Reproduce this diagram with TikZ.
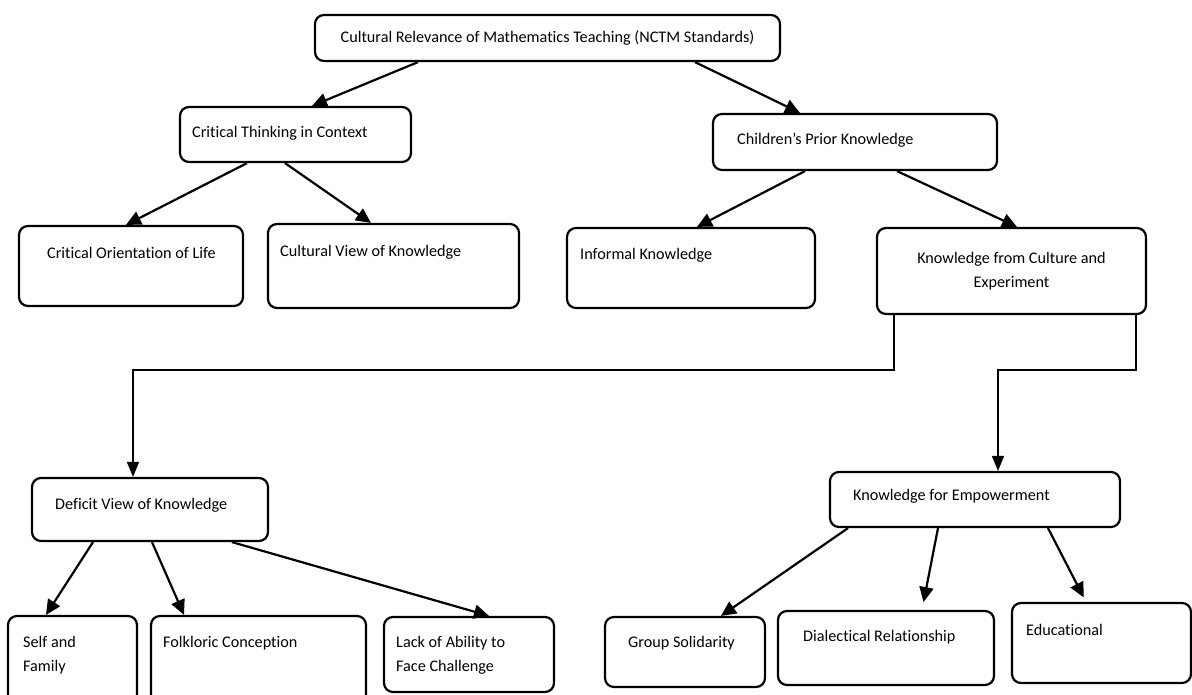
\documentclass[tikz,border=0pt]{standalone}
\usepackage{fontspec}
\setmainfont{Carlito}[Ligatures=CommonOff]
\usetikzlibrary{arrows.meta}
\tikzset{
  box/.style   = {draw, line width=2.2pt, rounded corners=9pt, inner sep=0pt},
  txt/.style   = {inner sep=0pt, align=left, font=\fontsize{16.2}{24}\selectfont},
  link/.style  = {-{Triangle[length=15pt,width=14pt]}, line width=2.2pt},
  elbow/.style = {-{Triangle[length=15pt,width=12pt]}, line width=1.6pt},
}

\begin{document}
\begin{tikzpicture}[x=1pt,y=-1pt]
\useasboundingbox[fill=white] (0,0) rectangle (1192,694);
\clip (0,0) rectangle (1192,694);
% ---------- top ----------
\node[box, txt, align=center, minimum width=465pt, minimum height=46pt] (NCTM) at (547.5,38)
  {Cultural Relevance of Mathematics Teaching (NCTM Standards)};
% ---------- second level ----------
\node[box, minimum width=231pt, minimum height=55pt] (CT) at (295.5,134.5) {};
\node[txt, anchor=west] (CTt) at (192,133) {Critical Thinking in Context};
\node[box, minimum width=284pt, minimum height=56pt] (CP) at (855,142) {};
\node[txt, anchor=west] (CPt) at (737,140) {Children’s Prior Knowledge};
\draw[link] (NCTM.south -| 418,0) -- (CT.north -| 312,0);
\draw[link] (NCTM.south -| 695,0) -- (CP.north -| 800,0);
% ---------- third level ----------
\node[box, minimum width=224pt, minimum height=80pt] (COL) at (131,266) {};
\node[txt, anchor=west] (COLt) at (47,253) {Critical Orientation of Life};
\node[box, minimum width=251pt, minimum height=84pt] (CVK) at (393.5,266) {};
\node[txt, anchor=west] (CVKt) at (280,252) {Cultural View of Knowledge};
\node[box, minimum width=248pt, minimum height=80pt] (IK) at (691,268) {};
\node[txt, anchor=west] (IKt) at (580,255) {Informal Knowledge};
\node[box, txt, align=center, minimum width=269pt, minimum height=86pt] (KCE) at (1011.5,271)
  {Knowledge from Culture and\\Experiment};
\draw[link] (CT.south -| 247,0) -- (COL.north -| 126,0);
\draw[link] (CT.south -| 285,0) -- (CVK.north -| 371,0);
\draw[link] (CP.south -| 805,0) -- (IK.north -| 697,0);
\draw[link] (CP.south -| 897,0) -- (KCE.north -| 1017,0);
% ---------- fourth level ----------
\node[box, minimum width=236pt, minimum height=63pt] (DVK) at (150,509.5) {};
\node[txt, anchor=west] (DVKt) at (55,505) {Deficit View of Knowledge};
\node[box, minimum width=290pt, minimum height=55pt] (KE) at (975,499.5) {};
\node[txt, anchor=west] (KEt) at (853,496) {Knowledge for Empowerment};
\draw[elbow] (KCE.south -| 894,0) -- (894,370) -| (DVK.north -| 133,0);
\draw[elbow] (KCE.south -| 1136,0) -- (1136,370) -| (KE.north -| 998,0);
% ---------- bottom row ----------
\node[box, minimum width=129pt, minimum height=88pt] (SF) at (72.5,660) {};
\node[txt, anchor=west] (SFt) at (23,655) {Self and\\Family};
\node[box, minimum width=215pt, minimum height=88pt] (FC) at (258.5,660) {};
\node[txt, anchor=west] (FCt) at (163,643) {Folkloric Conception};
\node[box, minimum width=170pt, minimum height=75pt] (LA) at (469,654.5) {};
\node[txt, anchor=west] (LAt) at (396,655) {Lack of Ability to\\Face Challenge};
\node[box, minimum width=160pt, minimum height=70pt] (GS) at (685,652) {};
\node[txt, anchor=west] (GSt) at (628,643) {Group Solidarity};
\node[box, minimum width=216pt, minimum height=74pt] (DR) at (886,648) {};
\node[txt, anchor=west] (DRt) at (803,637) {Dialectical Relationship};
\node[box, minimum width=179pt, minimum height=80pt] (ED) at (1101.5,643) {};
\node[txt, anchor=west] (EDt) at (1026,630) {Educational};
\draw[link] (DVK.south -| 93,0) -- (SF.north -| 46,0);
\draw[link] (DVK.south -| 152,0) -- (FC.north -| 184,0);
\draw[link] (DVK.south -| 232,0) -- (LA.north -| 489,0);
\draw[link] (KE.south -| 848,0) -- (GS.north -| 721,0);
\draw[link, shorten >=8pt] (KE.south -| 938,0) -- (DR.north -| 922,0);
\draw[link, shorten >=5pt] (KE.south -| 1048,0) -- (ED.north -| 1086,0);
\end{tikzpicture}
\end{document}
